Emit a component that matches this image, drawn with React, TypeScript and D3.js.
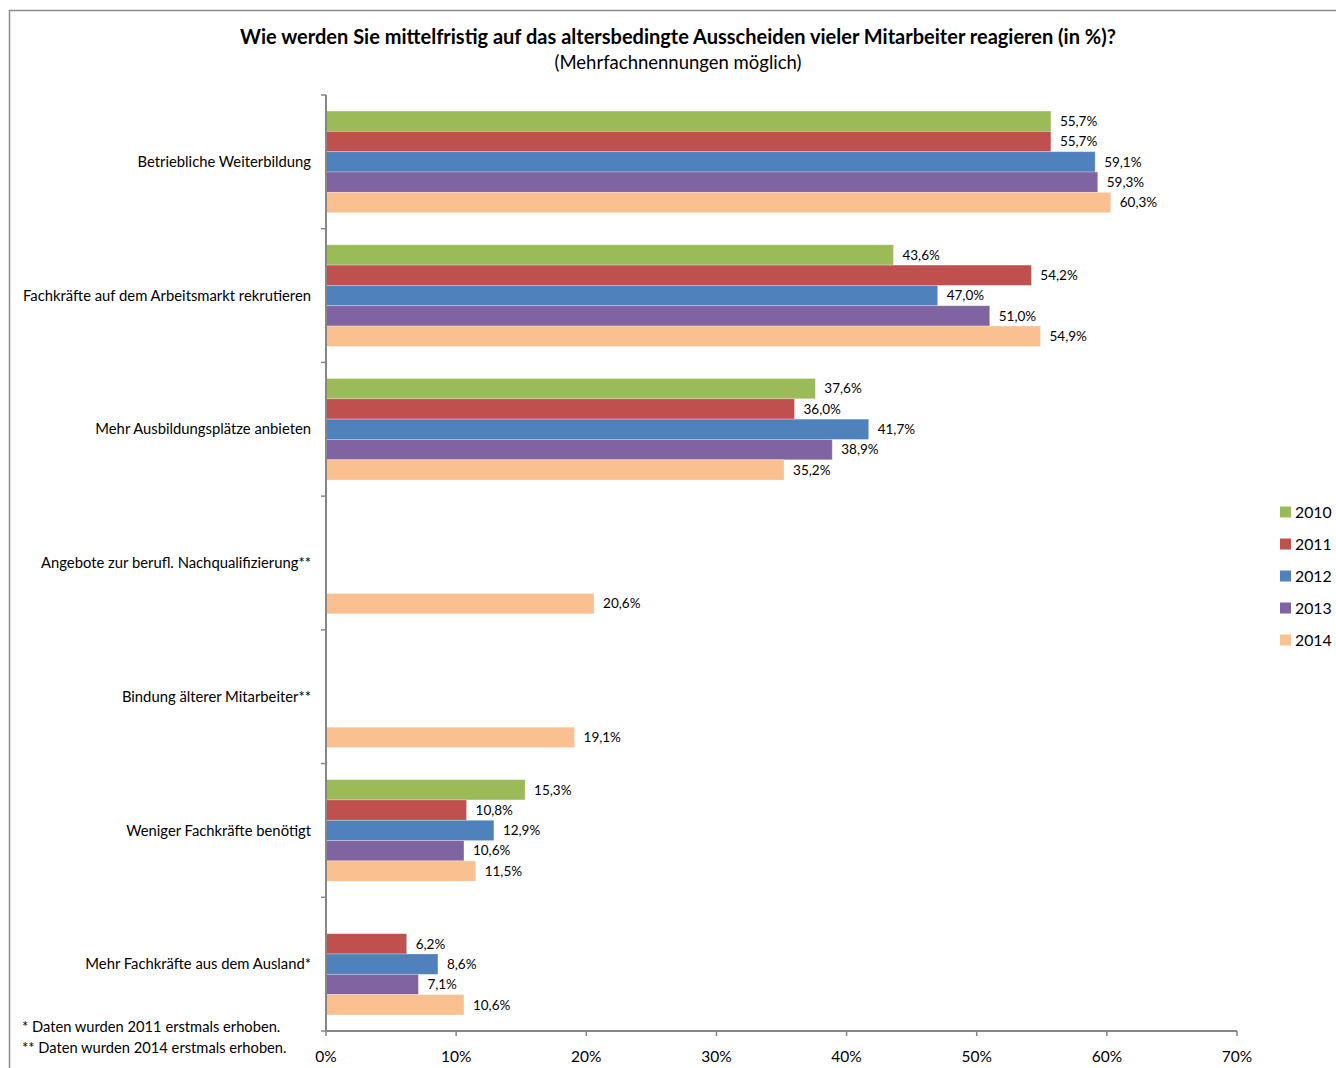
import React from "react";
import * as d3 from "d3";

const categories = [
  "Betriebliche Weiterbildung",
  "Fachkräfte auf dem Arbeitsmarkt rekrutieren",
  "Mehr Ausbildungsplätze anbieten",
  "Angebote zur berufl. Nachqualifizierung**",
  "Bindung älterer Mitarbeiter**",
  "Weniger Fachkräfte benötigt",
  "Mehr Fachkräfte aus dem Ausland*",
];
const years = ["2010", "2011", "2012", "2013", "2014"];
const v2010 = [55.7, 43.6, 37.6, null, null, 15.3, null];
const v2011 = [55.7, 54.2, 36.0, null, null, 10.8, 6.2];
const v2012 = [59.1, 47.0, 41.7, null, null, 12.9, 8.6];
const v2013 = [59.3, 51.0, 38.9, null, null, 10.6, 7.1];
const v2014 = [60.3, 54.9, 35.2, 20.6, 19.1, 11.5, 10.6];
const seriesValues = [v2010, v2011, v2012, v2013, v2014];
const colors = ["#9BBB59", "#C0504D", "#4F81BD", "#8064A2", "#FAC090"];
const xTicks = [0, 10, 20, 30, 40, 50, 60, 70];
const title = "Wie werden Sie mittelfristig auf das altersbedingte Ausscheiden vieler Mitarbeiter reagieren (in %)?";
const subtitle = "(Mehrfachnennungen möglich)";
const footnotes = ["* Daten wurden 2011 erstmals erhoben.", "** Daten wurden 2014 erstmals erhoben."];

const FONT = "Lato, 'Open Sans', sans-serif";

export default function App() {
  const x = d3.scaleLinear().domain([0, 70]).range([326, 1237]);
  const y = d3.scaleBand<string>().domain(categories).range([95, 1031]).padding(0);
  const inner = d3
    .scaleBand<string>()
    .domain(years)
    .range([0, y.bandwidth()])
    .paddingInner(0)
    .paddingOuter(0.79);
  const fmt = (v: number) => d3.format(".1f")(v).replace(".", ",") + "%";
  const gridColor = "#868686";

  return (
    <svg
      width={1336}
      height={1068}
      style={{ position: "absolute", left: 0, top: 0, background: "#fff" }}
      fontFamily={FONT}
    >
      <rect x={9.5} y={10.5} width={1340} height={1070} fill="#fff" stroke="#8a8a8a" strokeWidth={1.5} />
      <text x={678} y={44} textAnchor="middle" fontSize={20} fontWeight="bold" fill="#000">
        {title}
      </text>
      <text x={678} y={69} textAnchor="middle" fontSize={18.5} fill="#000">
        {subtitle}
      </text>

      {/* bars */}
      {seriesValues.map((vals, si) =>
        vals.map((v, ci) =>
          v == null ? null : (
            <g key={`${si}-${ci}`}>
              <rect
                x={x(0)}
                y={(y(categories[ci]) as number) + (inner(years[si]) as number)}
                width={x(v) - x(0)}
                height={inner.bandwidth()}
                fill={colors[si]}
                stroke="#ffffff"
                strokeOpacity={0.35}
                strokeWidth={0.8}
              />
              <text
                x={x(v) + 9}
                y={(y(categories[ci]) as number) + (inner(years[si]) as number) + inner.bandwidth() / 2}
                dy="0.35em"
                fontSize={13.5}
                fill="#000"
              >
                {fmt(v)}
              </text>
            </g>
          )
        )
      )}

      {/* y axis */}
      <line x1={326} x2={326} y1={95} y2={1031} stroke={gridColor} strokeWidth={2} />
      {[...categories.map((c) => y(c) as number), 1031].map((t, i) => (
        <line key={i} x1={321} x2={326} y1={t} y2={t} stroke={gridColor} strokeWidth={1.5} />
      ))}
      {categories.map((c) => (
        <text
          key={c}
          x={311}
          y={(y(c) as number) + y.bandwidth() / 2}
          dy="0.35em"
          textAnchor="end"
          fontSize={14.8}
          fill="#000"
        >
          {c}
        </text>
      ))}

      {/* x axis */}
      <line x1={326} x2={1237} y1={1031} y2={1031} stroke={gridColor} strokeWidth={2} />
      {xTicks.map((t) => (
        <g key={t}>
          <line x1={x(t)} x2={x(t)} y1={1031} y2={1036} stroke={gridColor} strokeWidth={1.5} />
          <text x={x(t)} y={1057} dy="0.35em" textAnchor="middle" fontSize={15.5} fill="#000">
            {t}%
          </text>
        </g>
      ))}

      {/* legend */}
      {years.map((yr, i) => (
        <g key={yr} transform={`translate(1280, ${512 + i * 32})`}>
          <rect x={0} y={-5.5} width={11} height={11} fill={colors[i]} />
          <text x={15} y={0} dy="0.35em" fontSize={15.8} fill="#000">
            {yr}
          </text>
        </g>
      ))}

      {/* footnotes */}
      {footnotes.map((f, i) => (
        <text key={i} x={22} y={1027 + i * 21} dy="0.35em" fontSize={14.7} fill="#000">
          {f}
        </text>
      ))}
    </svg>
  );
}
